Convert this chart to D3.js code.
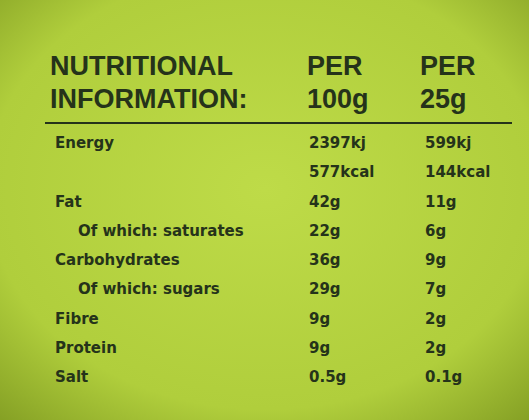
<!DOCTYPE html>
<html><head><meta charset="utf-8">
<script src="https://cdn.jsdelivr.net/npm/d3@7"></script>
<style>body{margin:0;background:#a9c83a}</style></head>
<body><svg id="c" width="529" height="420"></svg>
<script>
const rowLabels = ["Energy","","Fat","Of which: saturates","Carbohydrates","Of which: sugars","Fibre","Protein","Salt"];
const rowIndent = [0,0,0,1,0,1,0,0,0];
const per100 = ["2397kj","577kcal","42g","22g","36g","29g","9g","9g","0.5g"];
const per25 = ["599kj","144kcal","11g","6g","9g","7g","2g","2g","0.1g"];
const headers = [["NUTRITIONAL","INFORMATION:"],["PER","100g"],["PER","25g"]];

const svg = d3.select("#c");
const W=529,H=420;
const g0 = svg.append("defs").append("radialGradient").attr("id","bg").attr("cx","50%").attr("cy","45%").attr("r","75%");
g0.append("stop").attr("offset","0%").attr("stop-color","#bedb48");
g0.append("stop").attr("offset","70%").attr("stop-color","#b0ce3c");
g0.append("stop").attr("offset","100%").attr("stop-color","#849f24");
svg.append("rect").attr("width",W).attr("height",H).attr("fill","url(#bg)");
const ink="#25331a";
const x = d3.scaleOrdinal().domain([0,1,2]).range([50,307,420]);
const y = d3.scalePoint().domain(d3.range(rowLabels.length)).range([148,382]);

headers.forEach((h,i)=>h.forEach((t,j)=>svg.append("text").attr("x",x(i)).attr("y",75+j*33)
  .attr("font-family","Liberation Sans, Arial").attr("font-weight","bold").attr("font-size",27)
  .attr("fill",ink).text(t)));
svg.append("line").attr("x1",45).attr("x2",512).attr("y1",123).attr("y2",123).attr("stroke",ink).attr("stroke-width",2);

const txt=(xx,yy,t)=>svg.append("text").attr("x",xx).attr("y",yy).attr("font-family","DejaVu Sans").attr("font-weight","bold")
  .attr("font-size",15).attr("fill",ink).text(t);
rowLabels.forEach((l,i)=>{
  txt(55+rowIndent[i]*23,y(i),l);
  txt(x(1)+2,y(i),per100[i]);
  txt(x(2)+5,y(i),per25[i]);
});
</script></body></html>
